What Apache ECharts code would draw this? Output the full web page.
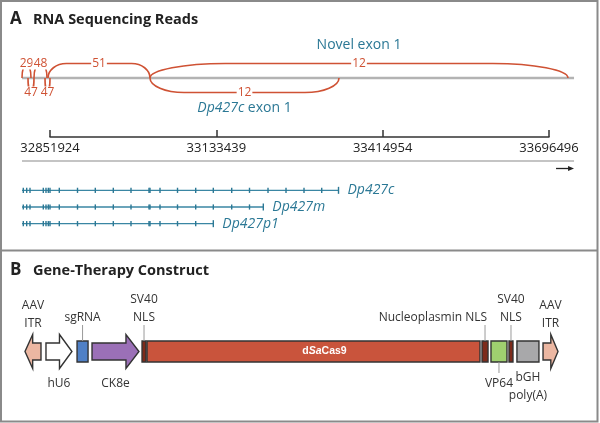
<!DOCTYPE html>
<html><head><meta charset="utf-8">
<script src="https://cdn.jsdelivr.net/npm/echarts@6/dist/echarts.min.js"></script>
<style>html,body{margin:0;padding:0;background:#fff}#c{width:600px;height:423px}</style>
</head><body><div id="c"></div>
<script>
// ---------------- Panel A data ----------------
const tickPositions = [32851924, 33133439, 33414954, 33696496];
const regionStart = 32804531;
const regionEnd = 33738866;

// splice junctions (RNA-seq reads)
const junctionStarts = [32804531, 32824842, 32814687, 32843461, 32848539, 33021184, 33021184];
const junctionEnds   = [32819765, 32846846, 32824842, 32851924, 33021184, 33728671, 33341075];
const junctionReads  = [29, 48, 47, 47, 51, 12, 12];
const junctionSide   = [1, 1, -1, -1, 1, 1, -1];   // 1 = above track, -1 = below
const junctionNotes  = ['', '', '', '', '', 'Novel exon 1', 'Dp427c exon 1'];

// transcripts
const transcriptNames  = ['Dp427c', 'Dp427m', 'Dp427p1'];
const transcriptStarts = [32804531, 32804531, 32804531];
const transcriptEnds   = [33340239, 33212956, 33128326];
const exonPositions = [32806732, 32812486, 32818072, 32840584, 32845154, 32849047, 32851924,
  32867665, 32898471, 32928599, 32959066, 32989025, 33019500, 33021184, 33038110, 33067731,
  33098536, 33128326, 33159469, 33189598, 33220911, 33251378, 33281844, 33311803];

// ---------------- Panel B data ----------------
const constructLength = 4700;
const partNames  = ['AAV ITR', 'hU6', 'sgRNA', 'CK8e', 'SV40 NLS', 'dSaCas9', 'Nucleoplasmin NLS', 'VP64', 'SV40 NLS', 'bGH poly(A)', 'AAV ITR'];
const partLabels = ['AAV\nITR', 'hU6', 'sgRNA', 'CK8e', 'SV40\nNLS', 'dSaCas9', 'Nucleoplasmin NLS', 'VP64', 'SV40\nNLS', 'bGH\npoly(A)', 'AAV\nITR'];
const partStarts = [0, 185, 459, 591, 1032, 1076, 4030, 4109, 4268, 4338, 4568];
const partEnds   = [141, 414, 556, 1005, 1067, 4012, 4083, 4250, 4303, 4532, 4700];
const partStrand = [-1, 1, 0, 1, 0, 0, 0, 0, 0, 0, 1];

// ---------------- styles ----------------
const FONT = '"Open Sans", sans-serif';
const RED = '#cf5234';
const TEAL = '#2b7895';
const TEAL_LINE = '#3a86a3';
const partFill = {
  'AAV ITR': '#ecb7a2', 'hU6': '#ffffff', 'sgRNA': '#4f80c6', 'CK8e': '#9b70b7',
  'SV40 NLS': '#7d2b1b', 'dSaCas9': '#c9543c', 'Nucleoplasmin NLS': '#7d2b1b',
  'VP64': '#9fd06f', 'bGH poly(A)': '#a8a8aa'
};
const labelLayout = [
  {pos: 'above', edge: -18.3},
  {pos: 'below', edge: 22.5},
  {pos: 'above', edge: -24.3, leader: true},
  {pos: 'below', edge: 22.5},
  {pos: 'above', edge: -24.3, leader: true},
  {pos: 'inside', dx: 11},
  {pos: 'above', edge: -24.3, leader: true, align: 'right', dx: 2},
  {pos: 'below', edge: 22.5, leader: true},
  {pos: 'above', edge: -24.3, leader: true},
  {pos: 'below', edge: 16.5},
  {pos: 'above', edge: -18.3}
];

function noteRich(t) {
  return t.replace(/(Dp\w+)/g, '{i|$1}');
}

function renderGenome(params, api) {
  const s = api.coord([api.value(0), 1]);
  const e = api.coord([api.value(1), 1]);
  return {type: 'line', shape: {x1: s[0], y1: s[1], x2: e[0], y2: e[1]},
    style: {stroke: '#b3b3b3', lineWidth: 2.5}};
}

function renderArc(params, api) {
  const i = api.value(4);
  const s = api.coord([api.value(0), 1]);
  const e = api.coord([api.value(1), 1]);
  const side = api.value(3);
  const y0 = s[1];
  const yt = y0 - 14.5 * side;
  const x1 = s[0], x2 = e[0];
  const span = x2 - x1;
  const r = Math.min(span / 2, Math.max(span * 0.18, 5));
  const xm = (x1 + x2) / 2;
  const k = 0.552;
  const ya = y0 + k * (yt - y0);
  const path = 'M' + x1 + ' ' + y0 +
    ' C' + x1 + ' ' + ya + ' ' + (x1 + r * (1 - k)) + ' ' + yt + ' ' + (x1 + r) + ' ' + yt +
    ' L' + (x2 - r) + ' ' + yt +
    ' C' + (x2 - r * (1 - k)) + ' ' + yt + ' ' + x2 + ' ' + ya + ' ' + x2 + ' ' + y0;
  const ch = [
    {type: 'path', shape: {pathData: path}, style: {stroke: RED, lineWidth: 1.6, fill: null}},
    {type: 'text', x: xm, y: yt, style: {text: String(api.value(2)), fill: RED, font: '12px ' + FONT,
      align: 'center', verticalAlign: 'middle', backgroundColor: '#fff', padding: [0, 1]}}
  ];
  const note = junctionNotes[i];
  if (note) {
    ch.push({type: 'text', x: xm, y: yt + (side > 0 ? -18 : 16), style: {
      text: noteRich(note), fill: TEAL, font: '14px ' + FONT, align: 'center', verticalAlign: 'middle',
      rich: {i: {fontStyle: 'italic', fill: TEAL, fontSize: 14, fontFamily: FONT}}}});
  }
  return {type: 'group', children: ch};
}

function renderRuler(params, api) {
  const cs = params.coordSys;
  const s = api.coord([api.value(0), 0]);
  const e = api.coord([api.value(1), 0]);
  const y = cs.y - 21;
  const ya = cs.y - 13.5;
  return {type: 'group', children: [
    {type: 'line', shape: {x1: s[0], y1: y, x2: e[0], y2: y}, style: {stroke: '#c4c4c4', lineWidth: 2}},
    {type: 'line', shape: {x1: e[0] - 18, y1: ya, x2: e[0] - 5, y2: ya}, style: {stroke: '#222', lineWidth: 1.3}},
    {type: 'polygon', shape: {points: [[e[0] - 6, ya - 2.5], [e[0], ya], [e[0] - 6, ya + 2.5]]}, style: {fill: '#222'}}
  ]};
}

function renderTranscript(params, api) {
  const idx = api.value(2);
  const st = api.value(0), en = api.value(1);
  const s = api.coord([st, idx]);
  const e = api.coord([en, idx]);
  const y = s[1];
  const ch = [{type: 'line', shape: {x1: s[0], y1: y, x2: e[0], y2: y}, style: {stroke: TEAL_LINE, lineWidth: 1.4}}];
  exonPositions.forEach(function (p) {
    if (p < st || p >= en) return;
    const x = api.coord([p, idx])[0];
    ch.push({type: 'line', shape: {x1: x, y1: y - 2.6, x2: x, y2: y + 2.6}, style: {stroke: TEAL, lineWidth: 1.4}});
  });
  ch.push({type: 'line', shape: {x1: e[0], y1: y - 3.5, x2: e[0], y2: y + 3.5}, style: {stroke: TEAL, lineWidth: 1.4}});
  ch.push({type: 'text', x: e[0] + 9, y: y, style: {text: transcriptNames[idx], fill: TEAL,
    font: 'italic 14px ' + FONT, align: 'left', verticalAlign: 'middle'}});
  return {type: 'group', children: ch};
}

function renderPart(params, api) {
  const i = api.value(3);
  const a = api.coord([api.value(0), 0]);
  const b = api.coord([api.value(1), 0]);
  const cy = a[1];
  const x1 = a[0], x2 = b[0];
  const strand = api.value(2);
  const name = partNames[i];
  const fill = partFill[name];
  const stroke = {stroke: '#333', lineWidth: 1.4, fill: fill};
  const ch = [];
  const bh = 8.5, hh = 17, boxH = 10.5;
  const hl = Math.min(13, (x2 - x1) * 0.48);
  if (strand === 1) {
    ch.push({type: 'polygon', shape: {points: [[x1, cy - bh], [x2 - hl, cy - bh], [x2 - hl, cy - hh], [x2, cy],
      [x2 - hl, cy + hh], [x2 - hl, cy + bh], [x1, cy + bh]]}, style: stroke});
  } else if (strand === -1) {
    ch.push({type: 'polygon', shape: {points: [[x2, cy - bh], [x1 + hl, cy - bh], [x1 + hl, cy - hh], [x1, cy],
      [x1 + hl, cy + hh], [x1 + hl, cy + bh], [x2, cy + bh]]}, style: stroke});
  } else {
    ch.push({type: 'rect', shape: {x: x1, y: cy - boxH, width: x2 - x1, height: boxH * 2}, style: stroke});
  }
  const L = labelLayout[i];
  const cx = (x1 + x2) / 2;
  if (L.pos === 'inside') {
    ch.push({type: 'text', x: cx + L.dx, y: cy, style: {text: '{b|d}{bi|Sa}{b|Cas9}', align: 'center', verticalAlign: 'middle',
      rich: {b: {fill: '#fff', fontWeight: 'bold', fontSize: 10.5, fontFamily: '"Liberation Sans", Arial, sans-serif'},
             bi: {fill: '#fff', fontWeight: 'bold', fontStyle: 'italic', fontSize: 10.5, fontFamily: '"Liberation Sans", Arial, sans-serif'}}}});
  } else {
    const above = L.pos === 'above';
    const lx = cx + (L.dx || 0);
    if (L.leader) {
      const ly1 = above ? cy - boxH : cy + boxH;
      const ly2 = above ? cy - 26.5 : cy + 21.5;
      ch.push({type: 'line', shape: {x1: cx, y1: ly1, x2: cx, y2: ly2}, style: {stroke: '#9a9a9a', lineWidth: 1}});
    }
    ch.push({type: 'text', x: lx, y: cy + L.edge, style: {text: partLabels[i], fill: '#333', font: '12px ' + FONT,
      lineHeight: 18.5, align: L.align || 'center', verticalAlign: above ? 'bottom' : 'top'}});
  }
  return {type: 'group', children: ch};
}

const chart = echarts.init(document.getElementById('c'), null, {renderer: 'canvas', width: 600, height: 423});

const option = {
  animation: false,
  backgroundColor: '#fff',
  textStyle: {fontFamily: FONT},
  grid: [
    {left: 50, width: 499, top: 78, height: 59, outerBoundsMode: 'none'},
    {left: 50, width: 499, top: 182, height: 50, outerBoundsMode: 'none'},
    {left: 25, width: 533, top: 341, height: 21, outerBoundsMode: 'none'}
  ],
  xAxis: [
    {gridIndex: 0, type: 'value', min: tickPositions[0], max: tickPositions[tickPositions.length - 1],
      splitLine: {show: false},
      axisLine: {show: true, onZero: false, lineStyle: {color: '#333', width: 1.5}},
      axisTick: {show: true, inside: true, length: 7, customValues: tickPositions, lineStyle: {color: '#333', width: 1.5}},
      axisLabel: {show: true, customValues: tickPositions, formatter: function (v) { return String(v); },
        color: '#222', fontSize: 13, fontFamily: FONT, margin: 5, showMinLabel: true, showMaxLabel: true, hideOverlap: false}},
    {gridIndex: 1, type: 'value', min: tickPositions[0], max: tickPositions[tickPositions.length - 1], show: false},
    {gridIndex: 2, type: 'value', min: 0, max: constructLength, show: false}
  ],
  yAxis: [
    {gridIndex: 0, type: 'value', min: 0, max: 1, show: false},
    {gridIndex: 1, type: 'category', data: transcriptNames, inverse: true, show: false},
    {gridIndex: 2, type: 'value', min: -1, max: 1, show: false}
  ],
  graphic: [
    {type: 'rect', shape: {x: 1, y: 1, width: 596.5, height: 420.5}, style: {fill: null, stroke: '#8a8a8a', lineWidth: 2}, z: 100},
    {type: 'line', shape: {x1: 0, y1: 250.5, x2: 598, y2: 250.5}, style: {stroke: '#8a8a8a', lineWidth: 2}, z: 100},
    {type: 'text', x: 10, y: 19, style: {text: 'A', font: 'bold 17px ' + FONT, fill: '#222', verticalAlign: 'middle'}},
    {type: 'text', x: 33, y: 19.5, style: {text: 'RNA Sequencing Reads', font: 'bold 14.5px ' + FONT, fill: '#222', verticalAlign: 'middle'}},
    {type: 'text', x: 10, y: 270, style: {text: 'B', font: 'bold 17px ' + FONT, fill: '#222', verticalAlign: 'middle'}},
    {type: 'text', x: 33, y: 270.5, style: {text: 'Gene-Therapy Construct', font: 'bold 14.5px ' + FONT, fill: '#222', verticalAlign: 'middle'}}
  ],
  series: [
    {type: 'custom', xAxisIndex: 0, yAxisIndex: 0, z: 1, renderItem: renderGenome,
      encode: {x: [0, 1], y: 2}, data: [[regionStart, regionEnd, 1]], silent: true},
    {type: 'custom', xAxisIndex: 0, yAxisIndex: 0, z: 3, renderItem: renderArc,
      encode: {x: [0, 1], y: 3},
      data: junctionStarts.map(function (s, i) { return [s, junctionEnds[i], junctionReads[i], junctionSide[i], i]; }), silent: true},
    {type: 'custom', xAxisIndex: 1, yAxisIndex: 1, z: 2, renderItem: renderRuler,
      encode: {x: [0, 1], y: 2}, data: [[regionStart, regionEnd, 0]], silent: true},
    {type: 'custom', xAxisIndex: 1, yAxisIndex: 1, z: 2, renderItem: renderTranscript,
      encode: {x: [0, 1], y: 2},
      data: transcriptNames.map(function (n, i) { return [transcriptStarts[i], transcriptEnds[i], i]; }), silent: true},
    {type: 'custom', xAxisIndex: 2, yAxisIndex: 2, z: 2, renderItem: renderPart,
      encode: {x: [0, 1], y: 2},
      data: partNames.map(function (n, i) { return [partStarts[i], partEnds[i], partStrand[i], i]; }), silent: true}
  ]
};
chart.setOption(option);
</script>
</body></html>
